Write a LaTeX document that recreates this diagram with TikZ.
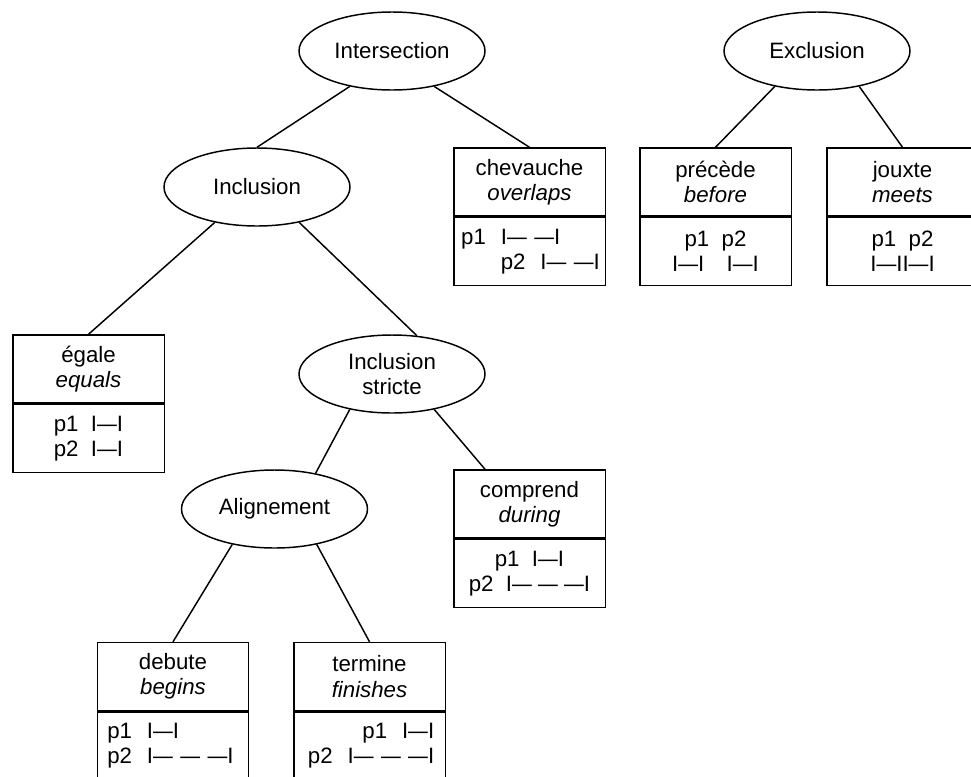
\documentclass[tikz,border=0pt]{standalone}
\usepackage{fontspec}
\setmainfont{Liberation Sans}
\usepackage{graphicx}
\usetikzlibrary{shapes.geometric,positioning}
\newcommand\dsh{\scalebox{1.6}[1]{–}}
\begin{document}
\begin{tikzpicture}[x=0.75pt,y=-0.75pt,line width=1.1pt,
		every node/.style={font=\fontsize{16.7}{19}\selectfont},
		rel/.style={ellipse,draw,minimum width=139.5pt,minimum height=58.5pt,inner sep=0pt,align=center},
		nom/.style={rectangle,draw,minimum width=113.6pt,minimum height=51pt,inner sep=0pt,align=center},
		ex/.style={rectangle,draw,minimum width=113.6pt,minimum height=51pt,inner ysep=0pt,below=0pt of #1}]
	\useasboundingbox (0,0) rectangle (971,776);
	\clip (0,0) rectangle (971,776);
	\node[rel] (inter) at (392,51) {Intersection};
	\node[rel] (excl) at (817,51) {Exclusion};
	\node[rel] (incl) at (257,187) {Inclusion};
	\node[rel] (strict) at (392,374) {Inclusion\\stricte};
	\node[rel] (alig) at (274.5,509) {Alignement};
	\node[nom] (chev) at (529.5,182) {chevauche\\\textit{overlaps}};
	\node[ex=chev,text width=102.4pt,inner xsep=5.6pt,align=left] (chevx) {p1~~I\dsh~\dsh I\\\phantom{p1~~}p2~~I\dsh~\dsh I};
	\node[nom] (prec) at (715.5,182) {précède\\\textit{before}};
	\node[ex=prec,align=center] (precx) {p1~~p2\\I\dsh I\quad I\dsh I};
	\node[nom] (joux) at (902.5,182) {jouxte\\\textit{meets}};
	\node[ex=joux,align=center] (jouxx) {p1~~p2\\I\dsh II\dsh I};
	\node[nom] (egal) at (88.5,369) {égale\\\textit{equals}};
	\node[ex=egal,align=center] (egalx) {p1~~I\dsh I\\p2~~I\dsh I};
	\node[nom] (comp) at (529.5,504) {comprend\\\textit{during}};
	\node[ex=comp,align=center] (compx) {p1~~I\dsh I\\p2~~I\dsh~\dsh~\dsh I};
	\node[nom] (debu) at (173,676.5) {debute\\\textit{begins}};
	\node[ex=debu,text width=98.6pt,inner xsep=7.5pt,align=left] (debux) {p1~~I\dsh I\\p2~~I\dsh~\dsh~\dsh I};
	\node[nom] (term) at (369.5,676.5) {termine\\\textit{finishes}};
	\node[ex=term,text width=97.1pt,inner xsep=8.25pt,align=right] (termx) {p1~~I\dsh I\\p2~~I\dsh~\dsh~\dsh I};
	\draw (inter.220) -- (incl.north);
	\draw (inter.320) -- (chev.north);
	\draw (excl.220) -- (prec.north);
	\draw (excl.320) -- (joux.north);
	\draw (incl.220) -- (egal.north);
	\draw (incl.320) -- (strict.57);
	\draw (strict.220) -- (alig.41);
	\draw (strict.320) -- ([xshift=24pt]comp.north west);
	\draw (alig.220) -- (debu.north);
	\draw (alig.320) -- (term.north);
\end{tikzpicture}
\end{document}
